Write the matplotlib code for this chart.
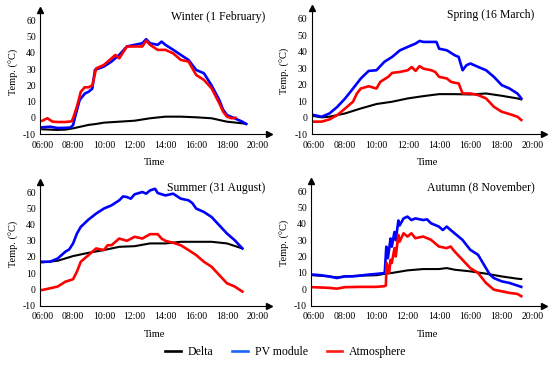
import matplotlib
matplotlib.use("Agg")
import matplotlib.pyplot as plt

plt.rcParams['font.family'] = ['Liberation Serif', 'DejaVu Serif']
plt.rcParams['axes.unicode_minus'] = False

# ---------------- data (time in decimal hours, temperature in °C) ----------------
x_ticks = [6, 8, 10, 12, 14, 16, 18, 20]
x_tick_labels = ['06:00', '08:00', '10:00', '12:00', '14:00', '16:00', '18:00', '20:00']
y_ticks = [-10, 0, 10, 20, 30, 40, 50, 60]
series_names = ['Delta', 'PV module', 'Atmosphere']
panel_titles = ['Winter (1 February)', 'Spring (16 March)', 'Summer (31 August)', 'Autumn (8 November)']

# Winter
winter_pv_t = [6.0, 6.5, 7.0, 7.5, 7.83, 8.0, 8.17, 8.43, 8.77, 9.0, 9.25, 9.42, 10.0, 10.5, 11.0, 11.5,
               12.0, 12.5, 12.75, 13.0, 13.5, 13.75, 14.0, 14.5, 15.0, 15.5, 15.75, 16.0, 16.5, 17.0,
               17.5, 17.75, 18.0, 18.5, 19.0, 19.25]
winter_pv = [-5.9, -5.5, -6.3, -6.2, -6.0, -4.5, 2.0, 11.0, 15.0, 16.0, 18.0, 29.5, 31.6, 34.7, 38.8, 44.0,
             45.0, 46.0, 48.5, 46.0, 45.0, 47.0, 45.0, 42.0, 38.8, 35.7, 32.6, 29.5, 27.5, 20.0,
             11.0, 5.0, 1.7, -0.3, -2.4, -3.8]
winter_atm_t = [6.0, 6.33, 6.67, 7.0, 7.5, 7.9, 8.0, 8.25, 8.5, 8.75, 9.0, 9.25, 9.5, 10.0, 10.5, 10.75,
                11.0, 11.5, 12.0, 12.5, 12.75, 13.0, 13.5, 14.0, 14.5, 15.0, 15.5, 16.0, 16.5, 17.0,
                17.5, 17.75, 18.0, 18.3, 18.55]
winter_atm = [-1.8, -0.3, -2.4, -2.6, -2.6, -2.2, -0.3, 6.9, 16.0, 18.8, 18.8, 20.0, 30.5, 32.6, 36.7, 38.8,
              36.7, 44.0, 44.0, 44.0, 47.6, 45.0, 41.9, 41.9, 39.8, 35.7, 34.7, 26.4, 23.4, 18.2,
              9.0, 3.8, 0.7, -0.3, 0.0]
winter_delta_t = [6.0, 7.0, 7.5, 8.0, 9.0, 9.5, 10.0, 11.0, 12.0, 13.0, 14.0, 15.0, 16.0, 17.0, 18.0, 19.0, 19.25]
winter_delta = [-7.1, -7.5, -7.3, -6.5, -4.4, -3.8, -3.0, -2.4, -1.8, -0.3, 0.7, 0.7, 0.3, -0.3, -2.4, -3.4, -3.8]

# Spring
spring_pv_t = [6.0, 6.5, 7.0, 7.5, 8.0, 8.5, 9.0, 9.5, 10.0, 10.5, 11.0, 11.5, 12.0, 12.5, 12.75, 13.0,
               13.5, 13.83, 14.0, 14.5, 15.0, 15.25, 15.5, 15.75, 16.0, 16.5, 17.0, 17.5, 18.0, 18.5,
               19.0, 19.25]
spring_pv = [1.5, 0.5, 2.5, 6.5, 11.6, 17.6, 23.7, 28.3, 28.7, 33.8, 36.8, 40.8, 42.9, 44.9, 46.5, 45.9,
             45.9, 45.9, 41.8, 40.8, 37.8, 36.8, 28.7, 31.8, 32.8, 30.7, 28.7, 24.7, 19.7, 17.6,
             14.6, 11.6]
spring_atm_t = [6.0, 6.5, 7.0, 7.5, 8.0, 8.5, 8.75, 9.0, 9.5, 10.0, 10.25, 10.75, 11.0, 11.5, 12.0, 12.25,
                12.5, 12.75, 13.0, 13.5, 13.75, 14.0, 14.5, 14.75, 15.0, 15.25, 15.5, 16.0, 16.5, 17.0,
                17.5, 18.0, 18.5, 19.0, 19.25]
spring_atm = [-2.5, -2.5, -1.1, 1.5, 5.5, 9.6, 14.6, 17.6, 19.0, 17.6, 21.7, 24.7, 27.1, 27.7, 28.7, 30.7,
              28.3, 31.2, 29.7, 28.7, 27.7, 24.7, 23.7, 21.7, 21.1, 20.7, 14.6, 14.6, 13.6, 11.6,
              6.5, 3.5, 2.1, 0.5, -1.5]
spring_delta_t = [6.0, 6.5, 7.0, 8.0, 9.0, 10.0, 11.0, 12.0, 13.0, 14.0, 15.0, 16.0, 17.0, 18.0, 19.0, 19.25]
spring_delta = [0.9, 0.1, 0.5, 2.5, 5.5, 8.2, 9.6, 11.6, 13.0, 14.2, 14.2, 14.0, 14.6, 13.2, 11.6, 11.0]

# Summer
summer_pv_t = [6.0, 6.5, 7.0, 7.5, 7.75, 8.0, 8.25, 8.5, 9.0, 9.5, 10.0, 10.5, 11.0, 11.25, 11.5, 11.75,
               12.0, 12.5, 12.75, 13.0, 13.33, 13.5, 14.0, 14.5, 15.0, 15.5, 15.75, 16.0, 16.5, 17.0,
               17.5, 18.0, 18.5, 19.0]
summer_pv = [17.0, 17.0, 19.0, 23.2, 24.6, 28.3, 34.4, 38.5, 43.0, 46.7, 49.8, 51.8, 54.9, 57.3, 56.9, 55.9,
             58.6, 60.0, 59.0, 61.0, 62.0, 59.4, 57.9, 59.0, 55.9, 54.9, 53.2, 49.8, 47.7, 44.6,
             39.5, 34.4, 30.3, 25.2]
summer_atm_t = [6.0, 6.5, 7.0, 7.5, 8.0, 8.25, 8.5, 9.0, 9.5, 10.0, 10.25, 10.5, 11.0, 11.5, 12.0, 12.5,
                13.0, 13.5, 13.75, 14.0, 14.5, 15.0, 15.5, 16.0, 16.5, 17.0, 17.5, 18.0, 18.5, 19.0]
summer_atm = [-0.4, 0.6, 1.7, 4.7, 6.2, 10.9, 17.0, 21.1, 25.2, 24.2, 27.2, 27.2, 31.3, 29.9, 32.4, 31.3,
              34.0, 34.0, 31.3, 29.9, 28.7, 27.2, 24.2, 21.1, 17.0, 13.9, 8.8, 3.7, 1.7, -1.4]
summer_delta_t = [6.0, 7.0, 8.0, 9.0, 10.0, 11.0, 12.0, 13.0, 14.0, 15.0, 16.0, 17.0, 18.0, 19.0]
summer_delta = [16.6, 17.6, 20.5, 22.5, 24.2, 26.2, 26.6, 28.3, 28.3, 29.3, 29.3, 29.3, 28.3, 25.2]

# Autumn
autumn_pv_t = [6.0, 6.5, 7.0, 7.5, 8.0, 8.5, 9.0, 9.5, 10.0, 10.55, 10.65, 10.75, 10.92, 11.0, 11.17, 11.25,
               11.42, 11.5, 11.75, 12.0, 12.25, 12.5, 13.0, 13.25, 13.5, 14.0, 14.25, 14.5, 14.75, 15.0,
               15.5, 16.0, 16.5, 17.0, 17.25, 17.5, 18.0, 18.5, 19.0, 19.25]
autumn_pv = [8.9, 8.5, 7.8, 6.8, 7.8, 7.8, 8.3, 8.9, 9.3, 9.9, 26.0, 19.0, 31.0, 26.0, 35.0, 30.0,
             42.0, 39.0, 43.3, 44.4, 42.3, 43.3, 42.3, 42.7, 40.3, 38.3, 36.2, 38.3, 36.2, 34.2,
             30.2, 24.1, 21.0, 12.9, 8.9, 6.8, 4.8, 3.8, 2.2, 1.4]
autumn_atm_t = [6.0, 7.0, 7.5, 8.0, 9.0, 10.0, 10.5, 10.62, 10.67, 10.83, 10.92, 11.0, 11.17, 11.25, 11.42, 11.5,
                11.75, 12.0, 12.25, 12.5, 13.0, 13.5, 14.0, 14.5, 14.75, 15.0, 15.5, 16.0, 16.5, 17.0,
                17.5, 18.0, 18.5, 19.0, 19.25]
autumn_atm = [1.2, 0.8, 0.3, 1.2, 1.4, 1.4, 1.8, 2.2, 16.0, 9.9, 18.0, 16.0, 25.1, 20.0, 33.2, 29.1,
              34.2, 32.2, 34.2, 31.2, 32.2, 30.2, 26.1, 25.1, 26.1, 23.1, 18.0, 12.9, 9.9, 3.8,
              -0.3, -1.3, -2.3, -2.9, -4.3]
autumn_delta_t = [6.0, 7.0, 7.5, 8.0, 9.0, 10.0, 10.5, 11.0, 12.0, 13.0, 14.0, 14.5, 15.0, 16.0, 17.0, 18.0, 19.0, 19.25]
autumn_delta = [8.5, 7.8, 7.2, 7.8, 8.3, 8.5, 9.3, 9.9, 11.5, 12.3, 12.3, 12.9, 11.9, 10.9, 9.5, 7.8, 6.4, 6.2]

panels = [
    (winter_delta_t, winter_delta, winter_pv_t, winter_pv, winter_atm_t, winter_atm),
    (spring_delta_t, spring_delta, spring_pv_t, spring_pv, spring_atm_t, spring_atm),
    (summer_delta_t, summer_delta, summer_pv_t, summer_pv, summer_atm_t, summer_atm),
    (autumn_delta_t, autumn_delta, autumn_pv_t, autumn_pv, autumn_atm_t, autumn_atm),
]

# ---------------- layout ----------------
W, H = 550, 365
fig = plt.figure(figsize=(5.5, 3.65), dpi=100)
# (left px, top px, right px, bottom px)
boxes = [(40, 10, 268.5, 134), (311.5, 8, 544, 134), (40, 181.5, 268.5, 305.5), (311, 180.5, 544, 305.5)]
colors = ['black', '#0000ff', '#ff0000']
lws = [1.5, 1.9, 1.9]

for i, (box, data, title) in enumerate(zip(boxes, panels, panel_titles)):
    l, t, r, b = box
    ax = fig.add_axes([l / W, 1 - b / H, (r - l) / W, (b - t) / H])
    for k in range(3):
        ax.plot(data[2 * k], data[2 * k + 1], color=colors[k], lw=lws[k], solid_joinstyle='round')
    ax.set_xlim(5.85, 20.7)
    ax.set_ylim(-10, 66.5)
    ax.set_xticks(x_ticks)
    ax.set_xticklabels(x_tick_labels)
    ax.set_yticks(y_ticks)
    ax.tick_params(labelsize=7, length=0)
    ax.tick_params(axis='x', pad=5)
    ax.tick_params(axis='y', pad=3)
    for s in ['top', 'right']:
        ax.spines[s].set_visible(False)
    for s in ['left', 'bottom']:
        ax.spines[s].set_linewidth(0.8)
    ax.plot(0, 1, marker='^', color='black', markersize=4, transform=ax.transAxes, clip_on=False)
    ax.plot(1, 0, marker='>', color='black', markersize=4, transform=ax.transAxes, clip_on=False)
    ax.set_xlabel('Time', fontsize=7.5, labelpad=6)
    ax.set_ylabel('Temp. (°C)', fontsize=7.5, labelpad=3)
    ax.text(0.985 if i % 2 == 0 else 0.96, 0.995, title, transform=ax.transAxes,
            ha='right', va='top', fontsize=8.5)

handles = [plt.Line2D([], [], color=c, lw=1.9) for c in ['black', '#1a66ff', '#ff1a1a']]
fig.legend(handles, series_names, loc='center', bbox_to_anchor=(286 / W, 1 - 352 / H), ncol=3,
           frameon=False, fontsize=8.5, handlelength=1.3, handletextpad=0.6, columnspacing=1.6)

fig.savefig('out.png', dpi=100)
